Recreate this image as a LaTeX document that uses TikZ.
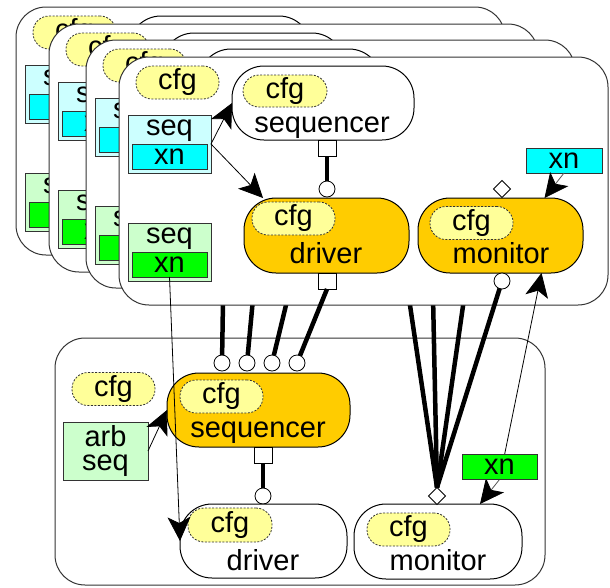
\documentclass[tikz,border=0pt]{standalone}
\usepackage{fontspec}
\setmainfont{Liberation Sans}
\usetikzlibrary{arrows.meta,shapes.geometric,calc}

\definecolor{pillyellow}{HTML}{FFFF99}
\definecolor{seqcyan}{HTML}{CCFFFF}
\definecolor{xncyan}{HTML}{00FFFF}
\definecolor{seqgreen}{HTML}{CCFFCC}
\definecolor{xngreen}{HTML}{00FF00}
\definecolor{compgold}{HTML}{FFCC00}
\definecolor{edgegray}{HTML}{333333}

\pgfdeclarelayer{front}
\pgfsetlayers{main,front}

\tikzset{
  every node/.style={font=\fontsize{29}{33}\selectfont, inner sep=0pt, outer sep=0pt},
  agentframe/.style={draw=edgegray, fill=white, line width=1pt, rounded corners=30pt,
    minimum width=489pt, minimum height=248pt, anchor=north west},
  cfgpill/.style={draw=edgegray, fill=pillyellow, line width=0.8pt,
    dash pattern=on 2pt off 1.5pt, rounded corners=16pt,
    minimum width=83pt, minimum height=33pt},
  seqbox/.style={draw=edgegray, fill=#1, line width=1pt, minimum width=83pt, minimum height=58pt},
  xnbox/.style={draw=edgegray, fill=#1, line width=1pt, minimum width=75pt, minimum height=25pt},
  comp/.style={draw=black, line width=1pt, rounded corners=32pt},
  port/.style={draw=black, fill=white, line width=0.8pt, minimum width=18pt, minimum height=16pt},
  socket/.style={circle, draw=black, fill=white, line width=0.8pt, minimum size=16pt},
  apport/.style={diamond, draw=black, fill=white, line width=0.8pt, minimum width=17pt, minimum height=17pt},
  wire/.style={draw=black, line width=4.5pt},
  conn/.style={draw=black, line width=0.8pt,
    -{Stealth[length=24pt,width=23pt,inset=6pt,color=black]}},
  feed/.style={conn, draw=black!65},
}

% one of the stacked agents behind the front one: frame, config, sequences,
% sequencer outline and the positions of its driver and monitor ports;
% #5 is the label of the transaction boxes (empty where it stays covered)
\newcommand\backagent[5]{%
  \begin{scope}[shift={(#2,#3)}]
    \node[agentframe] (#1frame) at (0,0) {};
    \node[cfgpill] (#1cfg) at (58.5,25.5) {cfg};
    \node[seqbox=seqcyan] (#1cseq) at (50.5,87) {};
    \node[xnbox=xncyan] (#1cxn) at (50.5,99.5) {#5};
    \node[anchor=base] (#1cseqt) at (50.5,78) {seq};
    \node[seqbox=seqgreen] (#1gseq) at (50.5,195) {};
    \node[xnbox=xngreen] (#1gxn) at (50.5,207.5) {#5};
    \node[anchor=base] (#1gseqt) at (50.5,186) {seq};
    \node[comp, fill=white, minimum width=182pt, minimum height=74pt] (#1sqr) at (204,46) {};
    \coordinate (#1drvport) at (208,232);
    \coordinate (#1monsock) at (383,224);
  \end{scope}
  \draw[wire] (#1drvport) -- (bsock#4);
  \draw[wire] (#1monsock) -- (bmonap.north);
}

\begin{document}
\begin{tikzpicture}[x=1pt, y=-1pt]
\useasboundingbox (0,0) rectangle (610,587);

% ---------- lower agent ----------
\node[agentframe, minimum width=490pt, minimum height=247pt] (bframe) at (55,338) {};
\node[cfgpill] (bcfg) at (113.5,389) {cfg};
\node[seqbox=seqgreen, minimum width=85pt, align=center,
      font=\fontsize{29}{24}\selectfont] (barb) at (105.5,451) {arb\\seq};
\node[comp, fill=compgold, minimum width=183pt, minimum height=74pt] (bsqr) at (258.5,410) {};
\node[cfgpill] (bsqrcfg) at (221.5,396.5) {cfg};
\node[anchor=base] (bsqrt) at (258,437) {sequencer};
\node[socket] (bsock1) at (222,363) {};
\node[socket] (bsock2) at (247,363) {};
\node[socket] (bsock3) at (272,363) {};
\node[socket] (bsock4) at (297,363) {};
\node[port] (bsqrport) at (263,455) {};
\node[socket] (bdrvsock) at (263,496) {};
\node[comp, fill=white, minimum width=167pt, minimum height=74pt] (bdrv) at (263.5,541) {};
\node[cfgpill, minimum width=84pt, minimum height=34pt] (bdrvcfg) at (230,525) {cfg};
\node[anchor=base] (bdrvt) at (263,570) {driver};
\node[comp, fill=white, minimum width=168pt, minimum height=75pt] (bmon) at (438,541.5) {};
\node[cfgpill] (bmoncfg) at (408.5,529.5) {cfg};
\node[anchor=base] (bmont) at (438,570) {monitor};
\node[apport] (bmonap) at (437,496) {};
\begin{pgfonlayer}{front}
  \node[xnbox=xngreen] (bxn) at (499.5,467) {xn};
\end{pgfonlayer}
\draw[conn] (barb.east) -- (bsqr.west);
\draw[wire] (bsqrport.south) -- (bdrvsock);

% ---------- stacked upper agents ----------
\backagent{ba}{16}{7}{1}{}
\backagent{bb}{49}{24}{2}{xn}
\backagent{bc}{86}{40}{3}{}

% ---------- front upper agent ----------
\begin{scope}[shift={(119,57)}]
  \node[agentframe] (fframe) at (0,0) {};
  \node[cfgpill] (fcfg) at (58.5,25.5) {cfg};
  \node[seqbox=seqcyan] (fcseq) at (50.5,87) {};
  \node[xnbox=xncyan] (fcxn) at (50.5,99.5) {xn};
  \node[anchor=base] (fcseqt) at (50.5,78) {seq};
  \node[seqbox=seqgreen] (fgseq) at (50.5,195) {};
  \node[xnbox=xngreen] (fgxn) at (50.5,207.5) {xn};
  \node[anchor=base] (fgseqt) at (50.5,186) {seq};
  % sequencer
  \node[comp, fill=white, minimum width=182pt, minimum height=74pt] (fsqr) at (204,46) {};
  \node[cfgpill, minimum width=84pt, minimum height=32pt] (fsqrcfg) at (166,34) {cfg};
  \node[anchor=base] (fsqrt) at (203,75) {sequencer};
  \node[port] (fsqrport) at (208,91) {};
  \node[socket] (fdrvsock) at (208,132) {};
  % driver
  \node[comp, fill=compgold, minimum width=165pt, minimum height=75pt] (fdrv) at (207.5,178.5) {};
  \node[cfgpill] (fdrvcfg) at (174.5,161.5) {cfg};
  \node[anchor=base] (fdrvt) at (207,206) {driver};
  \node[port] (fdrvport) at (208,224) {};
  % monitor
  \node[comp, fill=compgold, minimum width=165pt, minimum height=75pt] (fmon) at (381.5,178.5) {};
  \node[cfgpill] (fmoncfg) at (352.5,166) {cfg};
  \node[anchor=base] (fmont) at (382,206) {monitor};
  \node[apport] (fmonap) at (383,132) {};
  \node[socket] (fmonsock) at (383,224) {};
  \node[xnbox=xncyan, minimum width=76pt] (fmxn) at (445,103.5) {xn};
  % connections inside the agent
  \draw[conn] (fcseq.east) -- (fsqr.west);
  \draw[conn] (fcseq.east) -- ($(fdrv.north west)+(19,0)$);
  \draw[feed] (fmxn.south) -- ($(fmon.north)+(44,0)$);
  \draw[wire] (fsqrport.south) -- (fdrvsock);
\end{scope}

% ---------- connections between the agents ----------
\draw[wire] (fdrvport.south) -- (bsock4);
\draw[wire] (fmonsock) -- (bmonap.north);
\draw[conn] (fgxn.south) -- (bdrv.west);
\draw[conn] (bxn.south) -- ($(fmon.south)+(41,0)$);
\draw[feed] (bxn.south) -- ($(bmon.north)+(42,0)$);

\end{tikzpicture}
\end{document}
